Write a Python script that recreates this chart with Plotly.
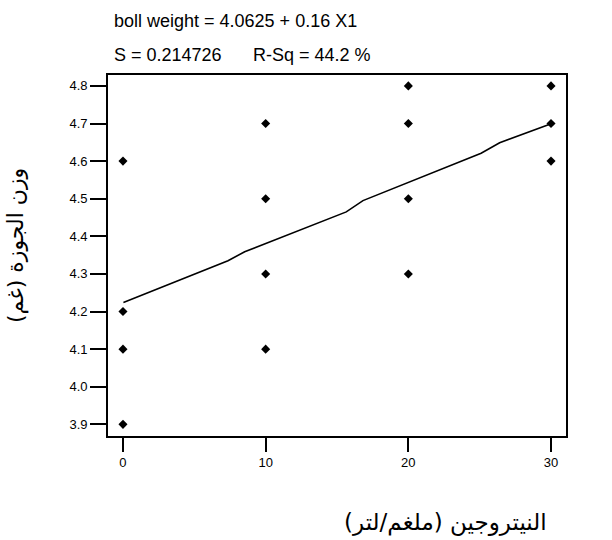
import plotly.graph_objects as go

# ---- data ----
nitrogen = [0, 0, 0, 0, 10, 10, 10, 10, 20, 20, 20, 20, 30, 30, 30]
boll_weight = [4.6, 4.2, 4.1, 3.9, 4.7, 4.5, 4.3, 4.1, 4.8, 4.7, 4.5, 4.3, 4.8, 4.7, 4.6]

fit_x = [0.03, 7.36, 8.53, 15.65, 16.82, 25.1, 26.4, 29.96]
fit_y = [4.224, 4.335, 4.359, 4.465, 4.495, 4.621, 4.649, 4.699]

x_ticks = [0, 10, 20, 30]
y_ticks = [3.9, 4.0, 4.1, 4.2, 4.3, 4.4, 4.5, 4.6, 4.7, 4.8]
y_tick_labels = ["3.9", "4.0", "4.1", "4.2", "4.3", "4.4", "4.5", "4.6", "4.7", "4.8"]

eq_text = "boll weight = 4.0625 + 0.16 X1"
s_text = "S = 0.214726"
rsq_text = "R-Sq = 44.2 %"
x_title = "النيتروجين (ملغم/لتر)"
y_title = "وزن الجوزة (غم)"

# ---- layout geometry (pixels) ----
W, H = 612, 540
L, R, T, B = 108, 566, 75, 436
pw, ph = R - L, B - T


def px(x):
    return (x - L) / pw


def py(y):
    return (B - y) / ph


SANS = "Liberation Sans, Arial, sans-serif"
ARABIC = "DejaVu Sans, Arial, sans-serif"

fig = go.Figure()
fig.add_trace(go.Scatter(
    x=fit_x, y=fit_y, mode="lines",
    line=dict(color="black", width=1.6),
    showlegend=False, hoverinfo="skip",
))
fig.add_trace(go.Scatter(
    x=nitrogen, y=boll_weight, mode="markers",
    marker=dict(symbol="diamond", size=7, color="black"),
    showlegend=False,
))

annotations = [
    dict(text=eq_text, xref="paper", yref="paper", x=px(112), y=py(21),
         xanchor="left", yanchor="middle", showarrow=False,
         font=dict(family=SANS, size=18)),
    dict(text=s_text, xref="paper", yref="paper", x=px(112), y=py(55),
         xanchor="left", yanchor="middle", showarrow=False,
         font=dict(family=SANS, size=18)),
    dict(text=rsq_text, xref="paper", yref="paper", x=px(251), y=py(55),
         xanchor="left", yanchor="middle", showarrow=False,
         font=dict(family=SANS, size=18)),
    dict(text=x_title, xref="paper", yref="paper", x=px(445), y=py(522),
         xanchor="center", yanchor="middle", showarrow=False,
         font=dict(family=ARABIC, size=23)),
    dict(text=y_title, xref="paper", yref="paper", x=px(16), y=py(246),
         xanchor="center", yanchor="middle", showarrow=False, textangle=-90,
         font=dict(family=ARABIC, size=22)),
]

fig.update_layout(
    width=W, height=H,
    margin=dict(l=L, r=W - R, t=T, b=H - B, pad=0),
    paper_bgcolor="white", plot_bgcolor="white",
    font=dict(family=SANS, color="black", size=13),
    xaxis=dict(
        range=[-1.05, 31.05], tickvals=x_ticks, ticktext=[str(v) for v in x_ticks],
        showgrid=False, zeroline=False, showline=True, mirror=True,
        linecolor="black", linewidth=1.6,
        ticks="outside", ticklen=14, tickwidth=1.6, tickcolor="black",
        tickfont=dict(family=SANS, size=13),
    ),
    yaxis=dict(
        range=[3.869, 4.829], tickvals=y_ticks, ticktext=y_tick_labels,
        showgrid=False, zeroline=False, showline=True, mirror=True,
        linecolor="black", linewidth=1.6,
        ticks="outside", ticklen=16, tickwidth=1.6, tickcolor="black",
        tickfont=dict(family=SANS, size=13),
    ),
    annotations=annotations,
)

fig.write_html("out.html", config={"displayModeBar": False},
               post_script="document.body.style.margin='0';")
